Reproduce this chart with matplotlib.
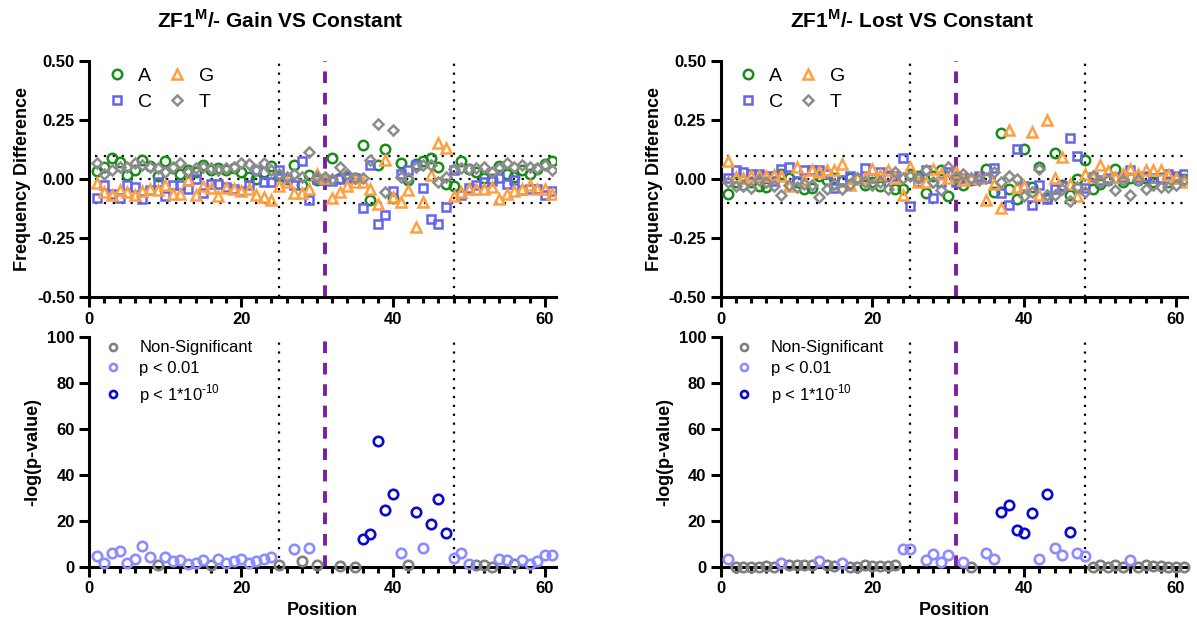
import numpy as np
import matplotlib.pyplot as plt
from matplotlib.ticker import MultipleLocator

plt.rcParams['font.family'] = ['Liberation Sans', 'DejaVu Sans']
plt.rcParams['mathtext.fontset'] = 'custom'
plt.rcParams['mathtext.rm'] = 'Liberation Sans'
plt.rcParams['mathtext.bf'] = 'Liberation Sans:bold'

positions = np.arange(1, 62)

# frequency differences, Gain vs Constant
gain_A = [0.034, 0.053, 0.089, 0.074, 0.017, 0.039, 0.081, 0.056, 0.014, 0.077,
          0.049, 0.021, 0.039, 0.029, 0.060, 0.037, 0.049, 0.039, 0.049, 0.031,
          0.011, 0.000, 0.029, 0.057, 0.014, 0.000, 0.060, -0.023, 0.017, -0.004,
          -0.004, 0.091, 0.003, 0.010, 0.006, 0.143, -0.087, 0.060, 0.127, -0.079,
          0.067, -0.004, 0.064, 0.077, 0.091, 0.053, -0.019, -0.030, 0.077, 0.043,
          0.029, 0.003, -0.001, 0.057, 0.020, 0.009, 0.039, 0.020, 0.043, 0.064, 0.079]
gain_C = [-0.080, -0.023, -0.061, -0.079, -0.023, -0.033, -0.083, -0.047, -0.011, -0.071,
          -0.023, -0.026, -0.043, 0.000, -0.057, -0.021, -0.019, -0.033, -0.040, -0.051,
          -0.023, 0.039, -0.014, -0.014, 0.039, 0.000, -0.023, 0.077, -0.087, 0.000,
          -0.004, -0.009, 0.000, 0.003, 0.003, -0.121, 0.060, -0.190, -0.151, -0.051,
          0.024, 0.039, 0.060, -0.037, -0.171, -0.190, -0.119, 0.039, -0.069, -0.037,
          -0.026, -0.014, -0.009, 0.003, -0.019, -0.004, -0.047, -0.040, -0.043, -0.066, -0.051]
gain_G = [-0.016, -0.054, -0.069, -0.047, -0.054, -0.066, -0.051, -0.040, -0.047, -0.026,
          -0.061, -0.061, -0.004, -0.069, -0.029, -0.037, -0.071, -0.037, -0.043, -0.051,
          -0.043, -0.066, -0.076, -0.090, -0.029, -0.010, -0.059, -0.057, -0.043, 0.024,
          0.003, -0.079, -0.054, -0.030, -0.010, -0.014, -0.040, -0.104, 0.081, -0.076,
          -0.097, -0.044, -0.204, -0.097, 0.017, 0.153, 0.134, -0.071, -0.054, -0.040,
          -0.040, -0.040, -0.033, -0.083, -0.061, -0.051, -0.040, -0.026, -0.040, -0.043, -0.061]
gain_T = [0.067, 0.024, 0.039, 0.053, 0.053, 0.067, 0.060, 0.053, 0.046, 0.031,
          0.053, 0.067, 0.029, 0.046, 0.053, 0.046, 0.039, 0.046, 0.053, 0.067,
          0.063, 0.039, 0.067, 0.039, 0.024, 0.010, 0.024, 0.010, 0.117, 0.010,
          0.010, 0.000, 0.053, 0.024, 0.003, 0.003, 0.081, 0.236, -0.054, 0.210,
          0.010, 0.003, 0.053, 0.060, 0.060, -0.014, 0.010, 0.043, 0.046, 0.043,
          0.046, 0.053, 0.029, 0.046, 0.067, 0.053, 0.060, 0.053, 0.046, 0.060, 0.039]

# frequency differences, Lost vs Constant
lost_A = [-0.061, -0.014, -0.023, -0.014, -0.029, -0.033, 0.014, 0.024, 0.006, -0.014,
          -0.043, -0.037, 0.014, -0.004, 0.003, -0.009, 0.006, 0.000, -0.023, -0.011,
          -0.029, 0.014, -0.043, -0.040, 0.024, 0.014, -0.057, 0.014, 0.039, -0.071,
          -0.004, -0.026, -0.004, 0.003, 0.043, -0.054, 0.196, -0.043, -0.083, 0.129,
          -0.033, 0.053, -0.080, 0.113, -0.023, -0.066, -0.001, 0.081, -0.040, -0.019,
          -0.004, 0.043, -0.014, 0.006, -0.004, 0.003, -0.014, 0.006, -0.011, 0.006, 0.000]
lost_C = [0.006, 0.039, 0.029, 0.020, 0.024, 0.014, -0.009, 0.043, 0.053, -0.009,
          0.039, 0.039, 0.039, 0.020, -0.037, -0.004, 0.014, 0.003, 0.049, 0.003,
          0.031, 0.014, 0.014, 0.091, -0.114, -0.011, 0.039, -0.080, -0.014, 0.029,
          -0.011, 0.003, -0.004, 0.014, 0.006, 0.046, -0.057, -0.111, 0.129, -0.030,
          -0.109, -0.026, -0.083, -0.043, -0.029, 0.174, 0.100, -0.037, 0.010, -0.004,
          0.006, 0.003, 0.010, 0.039, 0.010, 0.014, 0.003, 0.006, 0.024, 0.014, 0.024]
lost_G = [0.077, 0.010, 0.006, 0.014, 0.014, 0.014, 0.017, 0.014, -0.029, 0.053,
          -0.004, 0.039, 0.029, 0.039, 0.039, 0.063, -0.023, 0.003, 0.006, 0.043,
          0.017, 0.039, 0.006, -0.066, 0.053, -0.014, -0.014, 0.043, 0.020, 0.006,
          0.029, -0.004, 0.006, 0.006, -0.090, -0.019, -0.123, 0.207, -0.033, -0.030,
          0.200, -0.069, 0.250, 0.006, 0.096, -0.019, -0.071, 0.020, 0.010, 0.060,
          0.034, 0.010, 0.024, 0.043, 0.020, 0.039, 0.039, 0.039, 0.017, 0.006, -0.011]
lost_T = [-0.014, -0.029, -0.029, -0.037, -0.004, -0.011, -0.029, -0.066, -0.023, -0.033,
          -0.019, -0.026, -0.076, -0.043, -0.019, -0.040, -0.019, 0.006, -0.014, -0.023,
          -0.014, -0.040, 0.031, 0.006, 0.014, 0.003, 0.039, -0.014, -0.047, 0.053,
          0.010, 0.020, 0.006, -0.004, 0.003, 0.029, -0.011, 0.014, 0.000, -0.071,
          -0.054, 0.043, -0.069, -0.069, -0.040, -0.094, -0.033, -0.054, 0.014, -0.014,
          -0.004, -0.044, -0.004, -0.069, -0.004, -0.040, -0.023, -0.033, -0.033, -0.026, -0.004]

nan = np.nan
# -log(p-value) and significance class (0 = n.s., 1 = p<0.01, 2 = p<1e-10)
gain_logp = [4.8, 1.9, 6.2, 7.0, 1.7, 3.5, 9.1, 4.1, 0.7, 4.1,
             2.6, 2.9, 1.2, 1.9, 3.2, 0.7, 3.5, 1.7, 2.6, 3.5,
             1.7, 2.6, 3.5, 4.1, 0.7, nan, 7.7, 2.6, 8.4, 0.7,
             nan, nan, 0.3, nan, 0.0, 12.3, 14.1, 54.8, 24.9, 31.9,
             6.1, 0.7, 23.9, 8.3, 18.8, 29.4, 14.8, 3.9, 6.1, 1.2,
             0.7, 0.7, 0.0, 3.5, 3.2, 1.2, 3.2, 1.2, 2.5, 5.1, 5.1]
gain_sig = [1, 1, 1, 1, 1, 1, 1, 1, 0, 1,
            1, 1, 1, 1, 1, 0, 1, 1, 1, 1,
            1, 1, 1, 1, 0, 0, 1, 0, 1, 0,
            0, 0, 0, 0, 0, 2, 2, 2, 2, 2,
            1, 0, 2, 1, 2, 2, 2, 1, 1, 1,
            0, 0, 0, 1, 1, 0, 1, 1, 1, 1, 1]
lost_logp = [3.6, 0.0, 0.0, 0.0, 0.0, 0.3, 0.0, 1.9, 0.7, 1.0,
             1.0, 1.0, 2.5, 0.7, 0.3, 1.7, 0.0, 0.0, 0.7, 0.4,
             0.4, 0.4, 0.7, 7.7, 7.7, nan, 2.9, 5.4, 2.2, 5.1,
             nan, 2.2, 0.0, nan, 6.1, 3.6, 23.9, 26.8, 15.9, 14.9,
             23.3, 3.6, 31.6, 8.4, 5.1, 15.1, 6.1, 4.6, 0.0, 1.0,
             0.0, 1.0, 0.0, 2.9, 0.0, 0.7, 0.3, 0.3, 0.0, 0.0, 0.0]
lost_sig = [1, 0, 0, 0, 0, 0, 0, 1, 0, 0,
            0, 0, 1, 0, 0, 1, 0, 0, 0, 0,
            0, 0, 0, 1, 1, 0, 1, 1, 1, 1,
            0, 1, 0, 0, 1, 1, 2, 2, 2, 2,
            2, 1, 2, 1, 1, 2, 1, 1, 0, 0,
            0, 0, 0, 1, 0, 0, 0, 0, 0, 0, 0]

titles = ['ZF1$^{\\mathbf{M}}$/- Gain VS Constant', 'ZF1$^{\\mathbf{M}}$/- Lost VS Constant']

base_styles = [('A', 'o', '#1a8c1a', 6.8), ('C', 's', '#6464f0', 6.3),
               ('G', '^', '#ffa040', 6.8), ('T', 'D', '#8c8c8c', 4.8)]
sig_styles = [('Non-Significant', '#808080'), ('p < 0.01', '#8c8cff'),
              ('p < 1*10$^{\\text{-}10}$', '#0a0acc')]


def style_axis(ax):
    for s in ['top', 'right']:
        ax.spines[s].set_visible(False)
    for s in ['left', 'bottom']:
        ax.spines[s].set_linewidth(2.2)
    ax.set_xlim(0, 61.5)
    ax.xaxis.set_major_locator(MultipleLocator(20))
    ax.xaxis.set_minor_locator(MultipleLocator(2))
    ax.tick_params(axis='both', which='major', width=2.2, length=7, labelsize=12)
    ax.tick_params(axis='x', which='minor', width=2.2, length=4)
    for lab in ax.get_xticklabels() + ax.get_yticklabels():
        lab.set_fontweight('bold')


def add_marks(ax):
    ax.axvline(25, color='black', ls=(0, (1, 3)), lw=1.6, zorder=1)
    ax.axvline(48, color='black', ls=(0, (1, 3)), lw=1.6, zorder=1)
    ax.axvline(31, color='#7a1fa0', ls=(0, (3, 2.5)), lw=2.8, zorder=1)


fig = plt.figure(figsize=(11.97, 6.32), dpi=100)
lefts = [0.0746, 0.602]
top_data = [(gain_A, gain_C, gain_G, gain_T), (lost_A, lost_C, lost_G, lost_T)]
bot_data = [(gain_logp, gain_sig), (lost_logp, lost_sig)]

for k in range(2):
    ax = fig.add_axes([lefts[k], 0.530, 0.390, 0.373])
    for yv in [-0.1, 0.0, 0.1]:
        ax.hlines(yv, 0.8, 61, color='black', ls=(0, (1, 3)), lw=1.6, zorder=1)
    add_marks(ax)
    for (name, m, c, ms), vals in zip(base_styles, top_data[k]):
        ax.plot(positions, vals, ls='none', marker=m, ms=ms, mfc='none', mec=c,
                mew=1.8, label=name, zorder=3)
    ax.set_ylim(-0.5, 0.5)
    ax.set_yticks([-0.5, -0.25, 0, 0.25, 0.5])
    ax.set_yticklabels(['-0.50', '-0.25', '0.00', '0.25', '0.50'])
    ax.set_ylabel('Frequency Difference', fontsize=13, fontweight='bold')
    ax.set_title(titles[k], fontsize=15, fontweight='bold', pad=24, x=0.41)
    style_axis(ax)
    ax.legend(loc='upper left', ncol=2, frameon=False, fontsize=14,
              bbox_to_anchor=(0.0, 1.05), handletextpad=0.6, columnspacing=0.8,
              labelspacing=0.45, handlelength=1.0)

    ax2 = fig.add_axes([lefts[k], 0.103, 0.390, 0.364])
    add_marks(ax2)
    logp, sig = bot_data[k]
    logp = np.array(logp)
    sig = np.array(sig)
    for j, (name, c) in enumerate(sig_styles):
        mask = sig == j
        ax2.plot(positions[mask], logp[mask], ls='none', marker='o', ms=6.8,
                 mfc='none', mec=c, mew=1.9, label=name, clip_on=False, zorder=4)
    ax2.set_ylim(0, 100)
    ax2.yaxis.set_major_locator(MultipleLocator(20))
    ax2.set_ylabel('-log(p-value)', fontsize=13, fontweight='bold')
    ax2.set_xlabel('Position', fontsize=13, fontweight='bold')
    style_axis(ax2)
    ax2.legend(loc='upper left', frameon=False, fontsize=12,
               bbox_to_anchor=(0.0, 1.05), handletextpad=1.1, labelspacing=0.35,
               handlelength=1.0, markerscale=0.75)

fig.savefig('out.png', dpi=100)
